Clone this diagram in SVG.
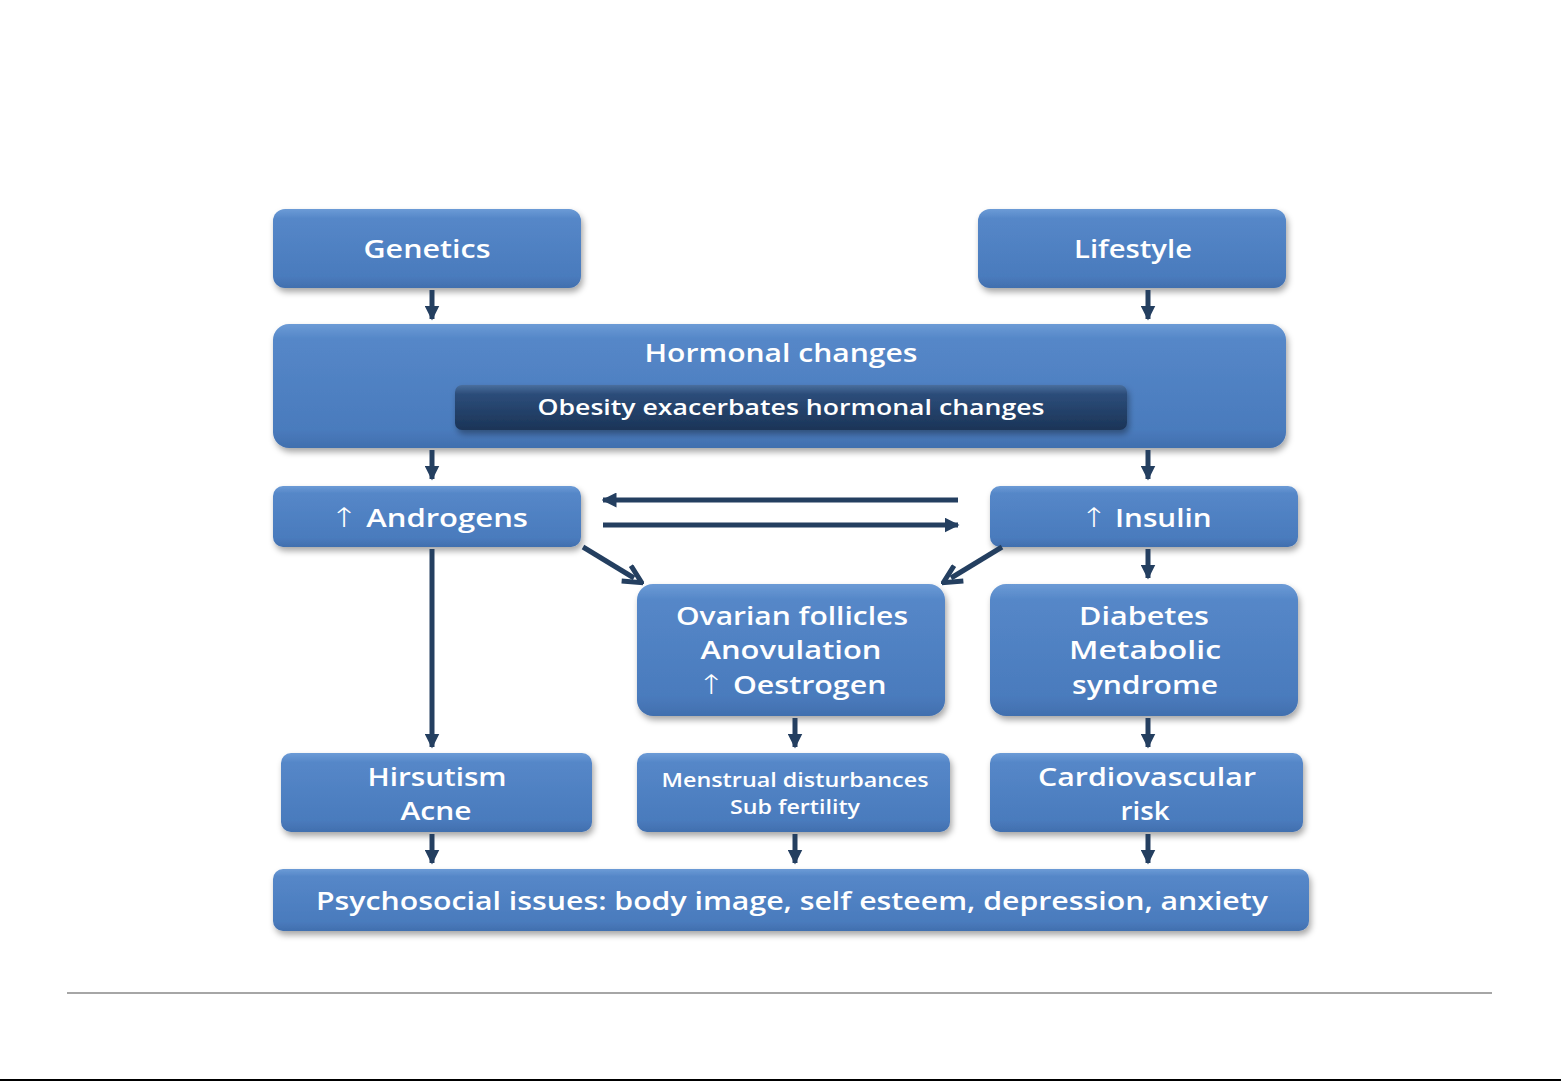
<svg xmlns="http://www.w3.org/2000/svg" width="1561" height="1081" viewBox="0 0 1561 1081">
<defs>
<linearGradient id="g" x1="0" y1="0" x2="0" y2="1">
<stop offset="0" stop-color="#6c9bd6"/>
<stop offset="0.12" stop-color="#5587c8"/>
<stop offset="0.85" stop-color="#4a7bbd"/>
<stop offset="1" stop-color="#416fae"/>
</linearGradient>
<linearGradient id="d" x1="0" y1="0" x2="0" y2="1">
<stop offset="0" stop-color="#4a6f9e"/>
<stop offset="0.2" stop-color="#2c4d7a"/>
<stop offset="1" stop-color="#1b3457"/>
</linearGradient>
<filter id="sh" x="-10%" y="-20%" width="120%" height="150%">
<feDropShadow dx="2" dy="4" stdDeviation="3" flood-color="#000" flood-opacity="0.35"/>
</filter>
<marker id="ah" viewBox="0 0 10 10" refX="9" refY="5" markerWidth="3" markerHeight="3" orient="auto" markerUnits="strokeWidth">
<path d="M0,0 L10,5 L0,10 z" fill="#243f60"/>
</marker>
<marker id="av" viewBox="0 0 10 10" refX="5" refY="5" markerWidth="4.5" markerHeight="4.5" orient="auto" markerUnits="strokeWidth">
<path d="M1,1 L9,5 L1,9" fill="none" stroke="#243f60" stroke-width="2.2"/>
</marker>
</defs>
<style>
.b{fill:url(#g);filter:url(#sh);}
.t{font-family:"Open Sans","Liberation Sans",sans-serif;font-weight:600;fill:#fff;font-size:25px;text-anchor:middle;}
.s{font-size:21px;}
.m{font-size:19px;}
.u{font-family:"DejaVu Sans",sans-serif;font-weight:300;font-size:27px;}
.c{stroke:#243f60;fill:none;}
</style>
<rect width="1561" height="1081" fill="#fff"/>
<g id="genetics"><rect class="b" x="273" y="209" width="308" height="79" rx="12"/><text class="t" x="427" y="258" textLength="127" lengthAdjust="spacingAndGlyphs">Genetics</text></g>
<g id="lifestyle"><rect class="b" x="978" y="209" width="308" height="79" rx="12"/><text class="t" x="1133" y="258" textLength="118" lengthAdjust="spacingAndGlyphs">Lifestyle</text></g>
<g id="hormonal"><rect class="b" x="273" y="324" width="1013" height="124" rx="16"/><text class="t" x="781" y="362" textLength="273" lengthAdjust="spacingAndGlyphs">Hormonal changes</text>
<g id="obesity"><rect x="455" y="385" width="672" height="45" rx="7" fill="url(#d)" filter="url(#sh)"/><text class="t s" x="791" y="415" textLength="507" lengthAdjust="spacingAndGlyphs">Obesity exacerbates hormonal changes</text></g></g>
<g id="androgens"><rect class="b" x="273" y="486" width="308" height="61" rx="10"/><text class="t" x="429" y="527" textLength="198" lengthAdjust="spacingAndGlyphs"><tspan class="u">↑</tspan> Androgens</text></g>
<g id="insulin"><rect class="b" x="990" y="486" width="308" height="61" rx="10"/><text class="t" x="1146" y="527" textLength="131" lengthAdjust="spacingAndGlyphs"><tspan class="u">↑</tspan> Insulin</text></g>
<g id="ovarian"><rect class="b" x="637" y="584" width="308" height="132" rx="16"/><text class="t" x="792" y="625" textLength="232" lengthAdjust="spacingAndGlyphs">Ovarian follicles</text><text class="t" x="791" y="659" textLength="181" lengthAdjust="spacingAndGlyphs">Anovulation</text><text class="t" x="792" y="694" textLength="189" lengthAdjust="spacingAndGlyphs"><tspan class="u">↑</tspan> Oestrogen</text></g>
<g id="diabetes"><rect class="b" x="990" y="584" width="308" height="132" rx="16"/><text class="t" x="1144" y="625" textLength="130" lengthAdjust="spacingAndGlyphs">Diabetes</text><text class="t" x="1145" y="659" textLength="152" lengthAdjust="spacingAndGlyphs">Metabolic</text><text class="t" x="1145" y="694" textLength="146" lengthAdjust="spacingAndGlyphs">syndrome</text></g>
<g id="hirsutism"><rect class="b" x="281" y="753" width="311" height="79" rx="10"/><text class="t" x="437" y="786" textLength="139" lengthAdjust="spacingAndGlyphs">Hirsutism</text><text class="t" x="436" y="820" textLength="71" lengthAdjust="spacingAndGlyphs">Acne</text></g>
<g id="menstrual"><rect class="b" x="637" y="753" width="313" height="79" rx="10"/><text class="t m" x="795" y="787" textLength="267" lengthAdjust="spacingAndGlyphs">Menstrual disturbances</text><text class="t m" x="795" y="814" textLength="130" lengthAdjust="spacingAndGlyphs">Sub fertility</text></g>
<g id="cardio"><rect class="b" x="990" y="753" width="313" height="79" rx="10"/><text class="t" x="1147" y="786" textLength="218" lengthAdjust="spacingAndGlyphs">Cardiovascular</text><text class="t" x="1145" y="820" textLength="49" lengthAdjust="spacingAndGlyphs">risk</text></g>
<g id="psychosocial"><rect class="b" x="273" y="869" width="1036" height="62" rx="10"/><text class="t" x="792" y="910" textLength="952" lengthAdjust="spacingAndGlyphs">Psychosocial issues: body image, self esteem, depression, anxiety</text></g>
<g id="connectors">
<g class="c" stroke-width="5" marker-end="url(#ah)">
<line x1="432" y1="290" x2="432" y2="319"/>
<line x1="1148" y1="290" x2="1148" y2="319"/>
<line x1="432" y1="450" x2="432" y2="479"/>
<line x1="1148" y1="450" x2="1148" y2="479"/>
<line x1="1148" y1="549" x2="1148" y2="578"/>
<line x1="432" y1="549" x2="432" y2="747"/>
<line x1="795" y1="718" x2="795" y2="747"/>
<line x1="1148" y1="718" x2="1148" y2="747"/>
<line x1="432" y1="834" x2="432" y2="863"/>
<line x1="795" y1="834" x2="795" y2="863"/>
<line x1="1148" y1="834" x2="1148" y2="863"/>
<line x1="958" y1="500" x2="603" y2="500"/>
<line x1="603" y1="525" x2="958" y2="525"/>
</g>
<g class="c" stroke-width="5" marker-end="url(#av)">
<line x1="583" y1="547" x2="634" y2="578"/>
<line x1="1002" y1="547" x2="951" y2="578"/>
</g>
</g>
<line x1="67" y1="993" x2="1492" y2="993" stroke="#a6a6a6" stroke-width="2"/>
<line x1="0" y1="1080" x2="1561" y2="1080" stroke="#000" stroke-width="2"/>
</svg>
